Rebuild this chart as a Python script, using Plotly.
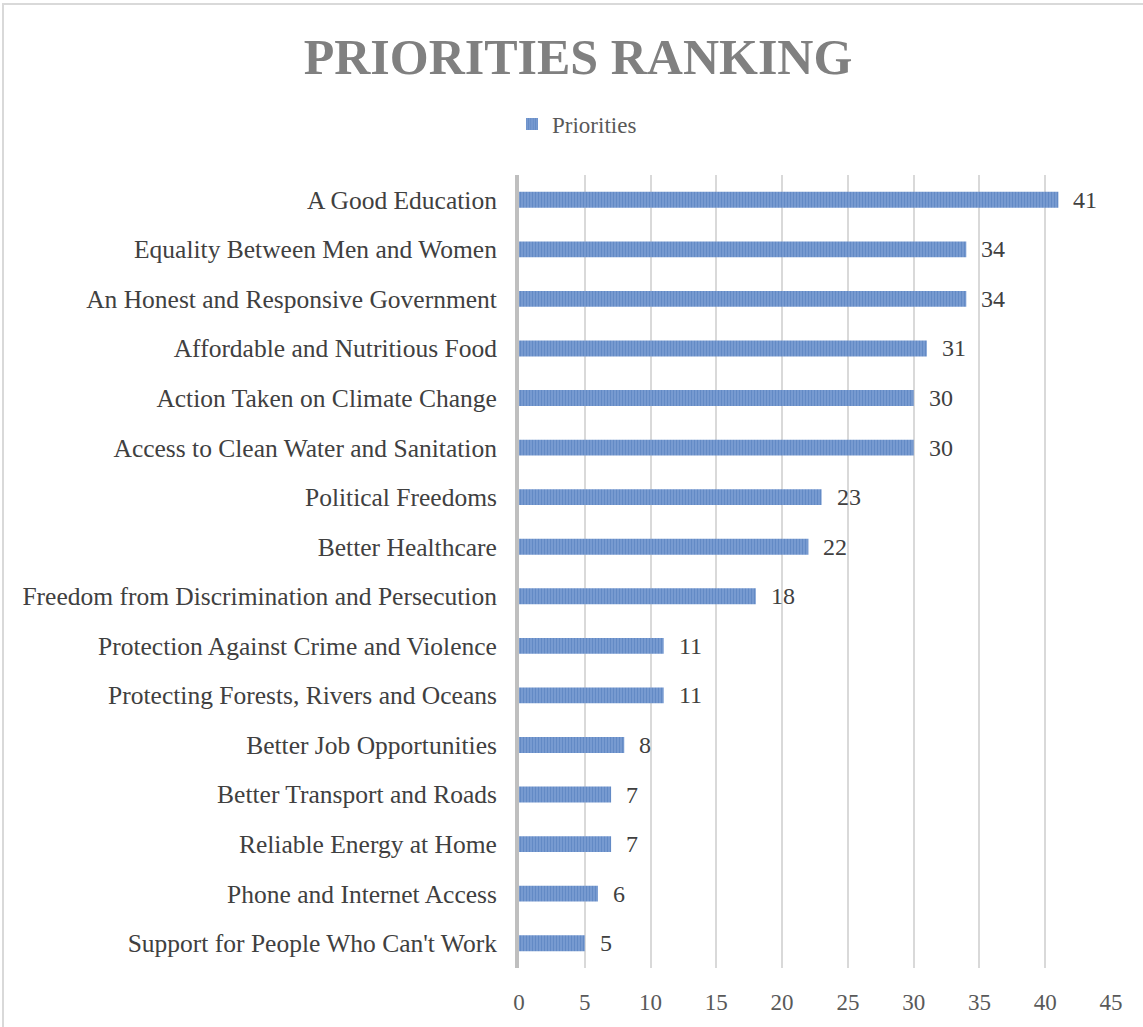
import plotly.graph_objects as go

categories = [
    "A Good Education",
    "Equality Between Men and Women",
    "An Honest and Responsive Government",
    "Affordable and Nutritious Food",
    "Action Taken on Climate Change",
    "Access to Clean Water and Sanitation",
    "Political Freedoms",
    "Better Healthcare",
    "Freedom from Discrimination and Persecution",
    "Protection Against Crime and Violence",
    "Protecting Forests, Rivers and Oceans",
    "Better Job Opportunities",
    "Better Transport and Roads",
    "Reliable Energy at Home",
    "Phone and Internet Access",
    "Support for People Who Can't Work",
]
values = [41, 34, 34, 31, 30, 30, 23, 22, 18, 11, 11, 8, 7, 7, 6, 5]
x_ticks = [0, 5, 10, 15, 20, 25, 30, 35, 40, 45]

W, H = 1143, 1027
L, R, T, B = 519, 32, 175, 59
pw, ph = W - L - R, H - T - B

FONT = "Liberation Serif"

fig = go.Figure(
    go.Bar(
        x=values,
        y=categories,
        orientation="h",
        name="Priorities",
        marker=dict(
            color="#4472c4",
            line=dict(width=0),
            pattern=dict(
                shape="|",
                fgcolor="#3866ad",
                bgcolor="#8eaedd",
                size=3,
                solidity=0.7,
                fillmode="overlay",
            ),
        ),
        showlegend=True,
    )
)

# value labels placed just past the end of each bar
for cat, v in zip(categories, values):
    fig.add_annotation(
        x=v, y=cat, xref="x", yref="y",
        text=str(v), showarrow=False,
        xanchor="left", yanchor="middle", xshift=13,
        font=dict(family=FONT, size=24, color="#404040"),
    )

# outer chart frame (left and top edges fall inside the page)
fig.add_shape(
    type="rect", xref="paper", yref="paper",
    x0=(3 - L) / pw, x1=(W + 20 - L) / pw,
    y0=-(B + 20) / ph, y1=(H - B - 4) / ph,
    line=dict(color="#d9d9d9", width=2), fillcolor="rgba(0,0,0,0)", layer="below",
)

fig.update_layout(
    width=W, height=H,
    margin=dict(l=L, r=R, t=T, b=B),
    paper_bgcolor="white", plot_bgcolor="white",
    bargap=0.68,
    title=dict(
        text="<b>PRIORITIES RANKING</b>",
        x=578 / W, xref="container", xanchor="center",
        y=1 - 56 / H, yref="container", yanchor="middle",
        font=dict(family=FONT, size=50, color="#808080"),
    ),
    legend=dict(
        orientation="h", x=(577 - L) / pw, xref="paper", xanchor="center",
        y=1 + (T - 124) / ph, yanchor="middle",
        font=dict(family=FONT, size=23, color="#595959"),
        itemwidth=30,
    ),
    xaxis=dict(
        range=[0, 45], tickvals=x_ticks, ticktext=[str(t) for t in x_ticks],
        showgrid=True, gridcolor="#d9d9d9", gridwidth=2,
        zeroline=False, showline=False, ticks="",
        tickfont=dict(family=FONT, size=23, color="#595959"),
        ticklabelstandoff=18,
    ),
    yaxis=dict(
        categoryorder="array", categoryarray=categories, autorange="reversed",
        showgrid=False, zeroline=False,
        showline=True, linecolor="#bfbfbf", linewidth=4,
        ticks="", ticklabelstandoff=13,
        tickfont=dict(family=FONT, size=25.5, color="#404040"),
    ),
)

fig.write_html("out.html")
